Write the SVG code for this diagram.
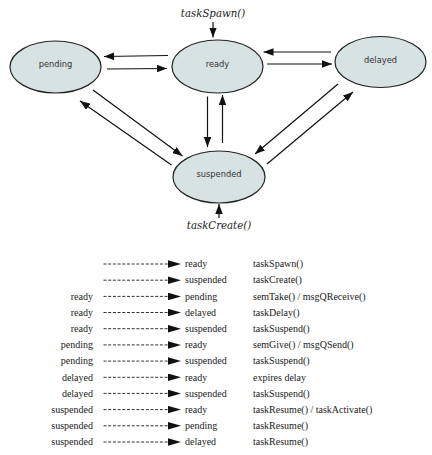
<svg xmlns="http://www.w3.org/2000/svg" width="432" height="455" viewBox="0 0 432 455">
<style>
.node{fill:#d7e2e2;stroke:#222;stroke-width:1.2}
.lbl{font-family:"DejaVu Sans",sans-serif;font-size:8.3px;fill:#333;text-anchor:middle}
.fn{font-family:"DejaVu Serif",serif;font-style:italic;font-size:10.2px;fill:#222;text-anchor:middle}
.edge{stroke:#111;stroke-width:1.2;fill:none;marker-end:url(#ah)}
.dash{stroke:#333;stroke-width:1;stroke-dasharray:3 1.7;fill:none;marker-end:url(#th)}
.t{font-family:"Liberation Serif",serif;font-size:10px;fill:#1a1a1a}
.r{text-anchor:end}
</style>
<defs>
<marker id="ah" markerUnits="userSpaceOnUse" markerWidth="10" markerHeight="8" refX="10" refY="3.75" orient="auto">
<path d="M0,0 L10,3.75 L0,7.5 z" fill="#111"/>
</marker>
<marker id="th" markerUnits="userSpaceOnUse" markerWidth="14" markerHeight="8" refX="0" refY="3.75" orient="auto">
<path d="M0,0 L13,3.75 L0,7.5 z" fill="#111"/>
</marker>
</defs>
<g id="connectors">
<line class="edge" x1="168" y1="55.5" x2="104" y2="56.5"/>
<line class="edge" x1="107" y1="69" x2="167" y2="68.5"/>
<line class="edge" x1="331" y1="52" x2="263.5" y2="52"/>
<line class="edge" x1="267" y1="64" x2="332" y2="64"/>
<line class="edge" x1="213" y1="22" x2="213" y2="37.5"/>
<line class="edge" x1="207.5" y1="96.5" x2="207.5" y2="147"/>
<line class="edge" x1="222.5" y1="143" x2="222.5" y2="95"/>
<line class="edge" x1="219" y1="218" x2="219" y2="204"/>
<line class="edge" x1="93" y1="90" x2="182.5" y2="156"/>
<line class="edge" x1="171.5" y1="165" x2="80" y2="101"/>
<line class="edge" x1="338" y1="84" x2="255" y2="154"/>
<line class="edge" x1="267" y1="164" x2="353" y2="92"/>
</g>
<g id="node-pending">
<ellipse class="node" cx="55.5" cy="67" rx="45.5" ry="26"/>
<text class="lbl" x="55.5" y="66.5">pending</text>
</g>
<g id="node-ready">
<ellipse class="node" cx="217.5" cy="66.5" rx="45.5" ry="26.5"/>
<text class="lbl" x="217.5" y="66.5">ready</text>
</g>
<g id="node-delayed">
<ellipse class="node" cx="380.5" cy="62" rx="45.5" ry="25.5"/>
<text class="lbl" x="380.5" y="63">delayed</text>
</g>
<g id="node-suspended">
<ellipse class="node" cx="219" cy="177" rx="46" ry="26"/>
<text class="lbl" x="219" y="176.8">suspended</text>
</g>
<g id="entry-labels">
<text class="fn" x="213" y="17">taskSpawn()</text>
<text class="fn" x="219" y="229">taskCreate()</text>
</g>
<g id="table">
<g class="dash">
<line x1="103.5" y1="264" x2="168" y2="264"/>
<line x1="103.5" y1="280.2" x2="168" y2="280.2"/>
<line x1="103.5" y1="296.4" x2="168" y2="296.4"/>
<line x1="103.5" y1="312.5" x2="168" y2="312.5"/>
<line x1="103.5" y1="328.7" x2="168" y2="328.7"/>
<line x1="103.5" y1="344.9" x2="168" y2="344.9"/>
<line x1="103.5" y1="361.1" x2="168" y2="361.1"/>
<line x1="103.5" y1="377.3" x2="168" y2="377.3"/>
<line x1="103.5" y1="393.4" x2="168" y2="393.4"/>
<line x1="103.5" y1="409.6" x2="168" y2="409.6"/>
<line x1="103.5" y1="425.8" x2="168" y2="425.8"/>
<line x1="103.5" y1="442" x2="168" y2="442"/>
</g>
<g class="t r">
<text x="93" y="299.5">ready</text>
<text x="93" y="315.7">ready</text>
<text x="93" y="331.9">ready</text>
<text x="93" y="348.1">pending</text>
<text x="93" y="364.3">pending</text>
<text x="93" y="380.5">delayed</text>
<text x="93" y="396.6">delayed</text>
<text x="93" y="412.8">suspended</text>
<text x="93" y="429">suspended</text>
<text x="93" y="445.2">suspended</text>
</g>
<g class="t">
<text x="185" y="267.2">ready</text>
<text x="185" y="283.4">suspended</text>
<text x="185" y="299.5">pending</text>
<text x="185" y="315.7">delayed</text>
<text x="185" y="331.9">suspended</text>
<text x="185" y="348.1">ready</text>
<text x="185" y="364.3">suspended</text>
<text x="185" y="380.5">ready</text>
<text x="185" y="396.6">suspended</text>
<text x="185" y="412.8">ready</text>
<text x="185" y="429">pending</text>
<text x="185" y="445.2">delayed</text>
</g>
<g class="t">
<text x="253" y="267.2">taskSpawn()</text>
<text x="253" y="283.4">taskCreate()</text>
<text x="253" y="299.5">semTake() / msgQReceive()</text>
<text x="253" y="315.7">taskDelay()</text>
<text x="253" y="331.9">taskSuspend()</text>
<text x="253" y="348.1">semGive() / msgQSend()</text>
<text x="253" y="364.3">taskSuspend()</text>
<text x="253" y="380.5">expires delay</text>
<text x="253" y="396.6">taskSuspend()</text>
<text x="253" y="412.8">taskResume() / taskActivate()</text>
<text x="253" y="429">taskResume()</text>
<text x="253" y="445.2">taskResume()</text>
</g>
</g>
</svg>
